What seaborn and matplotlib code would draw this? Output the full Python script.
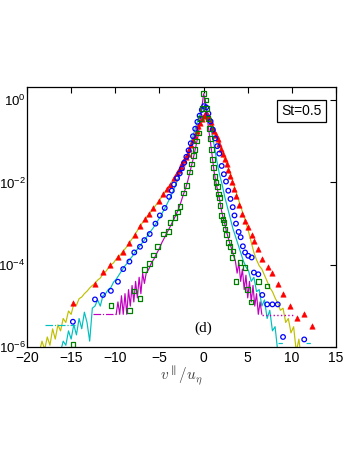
import matplotlib
matplotlib.use("Agg")
import matplotlib.pyplot as plt
import seaborn as sns
import pandas as pd
from matplotlib.ticker import NullLocator

# ---------------- data ----------------
# red triangles
red_x = [-14.8, -12.3, -11.4, -10.6, -9.7, -9.1, -8.4, -7.8, -7.2, -6.6, -6.15, -5.7, -5.1, -4.56,
         -4.1, -3.8, -3.35, -3.0, -2.8, -2.6, -2.4, -2.2, -2.0, -1.8, -1.6, -1.4, -1.2, -1.0, -0.8,
         -0.6, -0.4, -0.2, 0.0, 0.2, 0.4, 0.6, 0.8, 1.0, 1.2, 1.4, 1.6, 1.8, 2.0, 2.2, 2.4, 2.6,
         2.8, 3.0, 3.2, 3.45, 3.67, 4.04, 4.4, 4.7, 5.06, 5.45, 5.75, 6.2, 6.65, 7.26, 7.8, 8.4,
         9.0, 9.8, 10.6, 11.4, 12.3]
red_y = [1.2e-5, 3.47e-5, 6.76e-5, 1.0e-4, 1.51e-4, 2.09e-4, 3.31e-4, 5.37e-4, 8.9e-4, 1.32e-3,
         1.74e-3, 2.4e-3, 3.47e-3, 5.1e-3, 7.1e-3, 8.5e-3, 1.29e-2, 1.7e-2, 2.04e-2, 2.4e-2,
         2.88e-2, 3.47e-2, 4.17e-2, 5.0e-2, 6.3e-2, 7.9e-2, 0.105, 0.135, 0.174, 0.229, 0.282,
         0.347, 0.417, 0.468, 0.457, 0.38, 0.288, 0.224, 0.174, 0.138, 0.11, 0.085, 0.066, 0.050,
         0.0372, 0.0275, 0.020, 0.0145, 0.0102, 7.1e-3, 4.8e-3, 2.88e-3, 1.74e-3, 1.17e-3, 8.5e-4,
         5.25e-4, 3.72e-4, 2.4e-4, 1.41e-4, 8.9e-5, 6.2e-5, 3.39e-5, 2.0e-5, 1.0e-5, 5.0e-6,
         6.3e-6, 3.24e-6]

# yellow line
yel_x = [-19.0, -18.6, -18.3, -18.0, -17.7, -17.4, -17.1, -16.8, -16.5, -16.2, -15.9, -15.6, -15.3,
         -15.0, -14.7, -14.4, -14.1, -13.8, -13.5, -13.2, -12.9, -12.6, -12.3, -12.0, -11.7, -11.4,
         -11.1, -10.8, -10.5, -10.2, -9.9, -9.6, -9.3, -9.0, -8.7, -8.4, -8.1, -7.8, -7.5, -7.2,
         -6.9, -6.6, -6.3, -6.0, -5.7, -5.4, -5.1, -4.8, -4.5, -4.2, -3.9, -3.6, -3.3, -3.0, -2.7,
         -2.4, -2.1, -1.8, -1.5, -1.2, -0.9, -0.6, -0.3, 0.0, 0.3, 0.6, 0.9, 1.2, 1.5, 1.8, 2.1,
         2.4, 2.7, 3.0, 3.3, 3.6, 3.9, 4.2, 4.5, 4.8, 5.1, 5.4, 5.7, 6.0, 6.3, 6.6, 6.9, 7.2, 7.5,
         7.8, 8.1, 8.4, 8.7, 9.0, 9.3, 9.6, 9.9, 10.2, 10.5, 10.8, 11.0]
yel_y = [5.0e-7, 7.9e-7, 1.41e-6, 8.9e-7, 1.78e-6, 1.12e-6, 2.8e-6, 1.58e-6, 3.5e-6, 2.5e-6,
         5.0e-6, 4.0e-6, 7.6e-6, 6.3e-6, 1.12e-5, 1.05e-5, 1.51e-5, 1.66e-5, 2.0e-5, 2.3e-5,
         2.75e-5, 3.16e-5, 3.55e-5, 4.27e-5, 4.8e-5, 6.0e-5, 6.8e-5, 8.3e-5, 1.0e-4, 1.12e-4,
         1.38e-4, 1.58e-4, 1.91e-4, 2.29e-4, 2.75e-4, 3.47e-4, 4.27e-4, 5.37e-4, 6.76e-4, 8.7e-4,
         1.07e-3, 1.32e-3, 1.58e-3, 1.91e-3, 2.34e-3, 2.82e-3, 3.47e-3, 4.27e-3, 5.37e-3, 6.6e-3,
         8.1e-3, 1.02e-2, 1.32e-2, 1.7e-2, 2.24e-2, 2.88e-2, 3.8e-2, 5.0e-2, 7.1e-2, 0.105, 0.151,
         0.229, 0.316, 0.417, 0.468, 0.38, 0.251, 0.166, 0.115, 0.0794, 0.0537, 0.0355, 0.0251,
         0.0174, 0.0105, 6.6e-3, 4.17e-3, 2.63e-3, 1.66e-3, 1.05e-3, 6.3e-4, 3.55e-4, 2.0e-4,
         1.32e-4, 9.5e-5, 7.9e-5, 5.6e-5, 4.0e-5, 2.8e-5, 2.24e-5, 1.58e-5, 1.2e-5, 7.9e-6,
         8.9e-6, 4.0e-6, 5.0e-6, 2.24e-6, 3.16e-6, 7.9e-7, 1.58e-6, 6.3e-7]

# blue circles
blu_x = [-14.8, -12.3, -11.4, -10.5, -9.7, -9.1, -8.4, -7.85, -7.2, -6.7, -6.1, -5.45, -4.95, -4.4,
         -3.9, -3.6, -3.35, -3.0, -2.7, -2.45, -2.2, -1.95, -1.7, -1.45, -1.2, -0.95, -0.7, -0.45,
         -0.2, 0.05, 0.3, 0.55, 0.8, 1.05, 1.3, 1.55, 1.78, 2.05, 2.3, 2.54, 2.8, 3.05, 3.3, 3.5,
         3.67, 3.97, 4.2, 4.45, 4.7, 5.06, 5.45, 5.7, 6.2, 6.65, 7.2, 7.8, 8.4, 9.0, 11.4]
blu_y = [4.17e-6, 1.45e-5, 1.86e-5, 2.34e-5, 3.9e-5, 7.9e-5, 1.2e-4, 2.0e-4, 2.75e-4, 3.98e-4,
         5.6e-4, 1.0e-3, 1.58e-3, 2.4e-3, 4.47e-3, 6.3e-3, 8.9e-3, 1.26e-2, 1.66e-2, 2.19e-2,
         3.0e-2, 4.17e-2, 6.0e-2, 8.9e-2, 0.132, 0.2, 0.295, 0.417, 0.575, 0.708, 0.661, 0.468,
         0.302, 0.191, 0.117, 0.0759, 0.050, 0.0251, 0.0158, 0.0105, 6.3e-3, 3.98e-3, 2.51e-3,
         1.58e-3, 1.0e-3, 6.3e-4, 4.68e-4, 2.82e-4, 2.0e-4, 1.66e-4, 1.51e-4, 6.5e-5, 5.9e-5,
         1.86e-5, 1.1e-5, 1.1e-5, 1.1e-5, 1.78e-6, 1.55e-6]

# cyan line
cya_x = [-16.2, -15.9, -15.6, -15.3, -15.0, -14.7, -14.4, -14.1, -13.8, -13.5, -13.2, -12.9, -12.6,
         -12.3, -12.0, -11.7, -11.4, -11.1, -10.8, -10.5, -10.2, -9.9, -9.6, -9.3, -9.0, -8.7, -8.4,
         -8.1, -7.8, -7.5, -7.2, -6.9, -6.6, -6.3, -6.0, -5.7, -5.4, -5.1, -4.8, -4.5, -4.2, -3.9,
         -3.6, -3.3, -3.0, -2.7, -2.4, -2.1, -1.8, -1.5, -1.2, -0.9, -0.6, -0.3, 0.0, 0.3, 0.6, 0.9,
         1.2, 1.5, 1.8, 2.1, 2.4, 2.7, 3.0, 3.3, 3.6, 3.9, 4.2, 4.5, 4.8, 5.1, 5.4, 5.7, 6.0, 6.3,
         6.6, 6.9, 7.2, 7.5, 7.8, 8.1, 8.4]
cya_y = [7.9e-7, 1.41e-6, 1.12e-6, 2.51e-6, 1.58e-6, 3.55e-6, 2.0e-6, 5.0e-6, 2.82e-6, 7.1e-6,
         3.98e-6, 1.41e-6, 8.9e-6, 1.0e-5, 1.41e-5, 1.0e-5, 1.78e-5, 2.0e-5, 2.51e-5, 2.82e-5,
         3.8e-5, 4.47e-5, 5.6e-5, 7.1e-5, 8.9e-5, 1.07e-4, 1.32e-4, 1.58e-4, 2.0e-4, 2.4e-4,
         2.88e-4, 3.55e-4, 4.27e-4, 5.25e-4, 6.5e-4, 7.9e-4, 1.0e-3, 1.26e-3, 1.62e-3, 2.14e-3,
         2.82e-3, 3.8e-3, 5.25e-3, 7.4e-3, 1.07e-2, 1.58e-2, 2.4e-2, 3.55e-2, 5.25e-2, 8.3e-2,
         0.132, 0.219, 0.347, 0.525, 0.692, 0.631, 0.38, 0.178, 0.0794, 0.0331, 0.0158, 8.9e-3,
         4.47e-3, 2.51e-3, 1.41e-3, 7.9e-4, 5.0e-4, 3.16e-4, 2.0e-4, 1.26e-4, 8.9e-5, 7.1e-5,
         3.98e-5, 5.0e-5, 2.24e-5, 2.51e-5, 1.0e-5, 1.41e-5, 5.0e-6, 7.9e-6, 2.51e-6, 3.16e-6,
         7.9e-7]

# green squares
grn_x = [-14.8, -10.5, -8.4, -7.9, -7.2, -6.7, -6.15, -5.7, -5.2, -4.56, -4.0, -3.8, -3.24, -2.95,
         -2.67, -2.3, -1.9, -1.62, -1.35, -1.15, -0.97, -0.8, -0.6, -0.4, -0.2, 0.0, 0.27, 0.35,
         0.5, 0.65, 0.8, 0.92, 1.03, 1.15, 1.3, 1.42, 1.55, 1.67, 1.78, 1.88, 2.05, 2.2, 2.3,
         2.42, 2.6, 2.8, 3.0, 3.2, 3.35, 3.67, 4.12, 4.7, 4.95, 5.37, 6.2, 7.2]
grn_y = [1.17e-6, 1.05e-5, 7.9e-6, 2.34e-5, 1.55e-5, 7.6e-5, 1.07e-4, 1.74e-4, 2.82e-4, 5.6e-4,
         6.5e-4, 1.07e-3, 1.41e-3, 1.91e-3, 2.57e-3, 5.5e-3, 8.5e-3, 1.78e-2, 2.82e-2, 4.47e-2,
         6.3e-2, 0.1, 0.158, 0.355, 0.631, 1.45, 1.0, 0.631, 0.355, 0.204, 0.117, 0.063, 0.0355,
         0.0234, 0.0141, 0.01, 7.9e-3, 5.25e-3, 4.27e-3, 2.75e-3, 1.58e-3, 1.26e-3, 1.07e-3,
         7.4e-4, 5.37e-4, 3.47e-4, 2.75e-4, 1.51e-4, 2.19e-4, 3.9e-5, 1.15e-4, 8.5e-5, 2.51e-5,
         1.26e-5, 3.9e-5, 3.1e-5]

# magenta line
mag_x = [-9.9, -9.7, -9.5, -9.3, -9.1, -8.9, -8.7, -8.5, -8.3, -8.1, -7.9, -7.7, -7.5, -7.3, -7.1,
         -6.9, -6.7, -6.5, -6.2, -5.9, -5.6, -5.3, -5.0, -4.7, -4.4, -4.1, -3.8, -3.5, -3.2, -2.9,
         -2.6, -2.3, -2.0, -1.8, -1.6, -1.4, -1.2, -1.0, -0.8, -0.6, -0.4, -0.2, 0.0, 0.2, 0.4,
         0.6, 0.8, 1.0, 1.2, 1.4, 1.6, 1.8, 2.0, 2.2, 2.4, 2.6, 2.8, 3.0, 3.2, 3.4, 3.6, 3.8, 4.0,
         4.2, 4.4, 4.6, 4.8, 5.0, 5.2, 5.4, 5.6, 5.8, 6.0, 6.2, 6.4, 6.6]
mag_y = [6.3e-6, 1.26e-5, 6.3e-6, 1.78e-5, 6.3e-6, 2.0e-5, 6.3e-6, 2.51e-5, 1.0e-5, 3.16e-5,
         1.26e-5, 3.98e-5, 1.58e-5, 5.0e-5, 2.0e-5, 6.3e-5, 3.55e-5, 6.3e-5, 7.9e-5, 1.12e-4,
         1.41e-4, 1.91e-4, 2.51e-4, 3.55e-4, 4.68e-4, 6.3e-4, 8.3e-4, 1.12e-3, 1.51e-3, 2.09e-3,
         3.16e-3, 5.0e-3, 7.6e-3, 1.07e-2, 1.58e-2, 2.4e-2, 3.55e-2, 5.6e-2, 8.9e-2, 0.141, 0.316,
         0.631, 1.41, 1.0, 0.398, 0.178, 0.0891, 0.0398, 0.0178, 0.01, 6.3e-3, 3.98e-3, 2.24e-3,
         1.41e-3, 1.0e-3, 6.3e-4, 4.47e-4, 3.16e-4, 2.4e-4, 1.66e-4, 1.26e-4, 6.3e-5, 1.12e-4,
         3.98e-5, 7.9e-5, 2.51e-5, 5.6e-5, 1.58e-5, 3.98e-5, 1.26e-5, 3.16e-5, 1.0e-5, 2.0e-5,
         6.3e-6, 1.26e-5, 6.3e-6]

# sparse tail segments (single-count levels)
mag_tail_l_x = [-12.5, -9.9]
mag_tail_l_y = [6.3e-6, 6.3e-6]
mag_tail_r_x = [6.6, 10.4]
mag_tail_r_y = [6.0e-6, 6.0e-6]
cya_tail_l_x = [-18.0, -14.6]
cya_tail_l_y = [3.5e-6, 3.5e-6]
cya_tail_r1_x = [8.4, 9.0]
cya_tail_r2_x = [11.6, 12.3]
cya_tail_r_y = [1.26e-6, 1.26e-6]

yticks = [1e-6, 1e-4, 1e-2, 1e0]
ytick_labels = [r'$10^{-6}$', r'$10^{-4}$', r'$10^{-2}$', r'$10^{0}$']
xticks = [-20, -15, -10, -5, 0, 5, 10, 15]
legend_text = "St=0.5"
panel_text = "(d)"

# ---------------- style ----------------
sns.set_theme(style="white")
plt.rcParams['font.family'] = ['Liberation Sans', 'DejaVu Sans']
plt.rcParams['mathtext.fontset'] = 'custom'
plt.rcParams['mathtext.rm'] = 'Liberation Sans'
plt.rcParams['mathtext.it'] = 'Liberation Sans:italic'

C_YEL = '#bfbf00'
C_CYA = '#00bfbf'
C_MAG = '#bf00bf'
C_RED = '#ff0000'
C_BLU = '#0000ff'
C_GRN = '#008000'

fig = plt.figure(figsize=(3.49, 4.51), dpi=100)
ax = fig.add_axes([27 / 349, 1 - 347.3 / 451, (336 - 27) / 349, (347.3 - 87.3) / 451])
ax.set_yscale('log')


def line(x, y, color, ls='-', lw=0.85, z=2):
    df = pd.DataFrame({'x': x, 'y': y})
    sns.lineplot(data=df, x='x', y='y', estimator=None, sort=False, color=color,
                 linewidth=lw, linestyle=ls, ax=ax, zorder=z)


line(yel_x, yel_y, C_YEL)
line(cya_x, cya_y, C_CYA)
line(mag_x, mag_y, C_MAG)
line(mag_tail_l_x, mag_tail_l_y, C_MAG, ls='-.')
line(mag_tail_r_x, mag_tail_r_y, C_MAG, ls=':', lw=1.0)
line(cya_tail_l_x, cya_tail_l_y, C_CYA, ls='-.')
line(cya_tail_r1_x, cya_tail_r_y, C_CYA, ls='--')
line(cya_tail_r2_x, cya_tail_r_y, C_CYA, ls='--')

sns.scatterplot(x=red_x, y=red_y, marker='^', s=15, color=C_RED, edgecolor=C_RED,
                linewidth=0.4, ax=ax, zorder=4)
sns.scatterplot(x=blu_x, y=blu_y, marker='o', s=11, color=C_BLU, facecolor='none',
                edgecolor=C_BLU, linewidth=0.9, ax=ax, zorder=4)
sns.scatterplot(x=grn_x, y=grn_y, marker='s', s=11, color=C_GRN, facecolor='none',
                edgecolor=C_GRN, linewidth=0.9, ax=ax, zorder=4)

ax.set_xlim(-20, 15)
ax.set_ylim(1e-6, 2.03)
ax.set_xticks(xticks)
ax.set_xticklabels([f"\u2212{-t}" if t < 0 else str(t) for t in xticks])
ax.set_yticks(yticks)
ax.set_yticklabels(ytick_labels)
ax.yaxis.set_minor_locator(NullLocator())
ax.xaxis.set_minor_locator(NullLocator())
ax.tick_params(direction='in', top=True, right=True, length=4, width=0.8,
               labelsize=10, colors='black', pad=3)
ax.tick_params(axis='y', pad=1, labelsize=9.5)
for sp in ax.spines.values():
    sp.set_color('black')
    sp.set_linewidth(0.9)

ax.set_xlabel(r'$v^{\parallel}/u_{\eta}$', fontsize=11, color='#404040',
              math_fontfamily='cm', labelpad=-1)
ax.set_ylabel('')

ax.text(0.888, 0.91, legend_text, transform=ax.transAxes, ha='center', va='center',
        fontsize=10, color='black',
        bbox=dict(boxstyle='square,pad=0.3', fc='white', ec='black', lw=0.9), zorder=6)
ax.text(0.57, 0.073, panel_text, transform=ax.transAxes, ha='center', va='center',
        fontsize=11, family=['Liberation Serif', 'DejaVu Serif'], color='black', zorder=6)

fig.savefig('out.png', dpi=100)
